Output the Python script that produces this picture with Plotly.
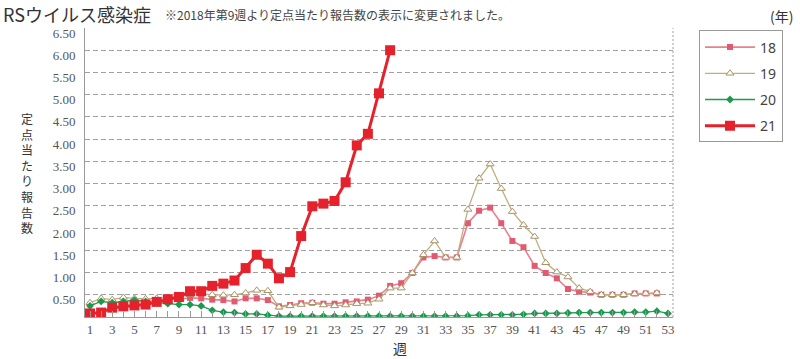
import plotly.graph_objects as go

weeks = list(range(1, 54))

# 2018 (starts week 9, ends week 52)
y18 = [None]*8 + [0.40, 0.43, 0.42, 0.39, 0.38, 0.35, 0.42, 0.42, 0.38,
                  0.24, 0.27, 0.31, 0.32, 0.30, 0.30, 0.33, 0.35, 0.39, 0.48,
                  0.70, 0.76, 0.99, 1.34, 1.37, 1.34, 1.34, 2.11, 2.39, 2.46,
                  2.11, 1.71, 1.57, 1.15, 0.99, 0.87, 0.63, 0.57, 0.55, 0.50,
                  0.50, 0.50, 0.53, 0.53, 0.53, None]
# 2019
y19 = [0.32, 0.42, 0.39, 0.44, 0.42, 0.41, 0.42, 0.44, 0.46, 0.50,
       0.52, 0.50, 0.49, 0.50, 0.54, 0.60, 0.59,
       0.22, 0.25, 0.28, 0.32, 0.27, 0.25, 0.27, 0.30, 0.31, 0.40,
       0.65, 0.65, 0.99, 1.40, 1.71, 1.34, 1.34, 2.42, 3.12, 3.44,
       2.89, 2.37, 2.07, 1.81, 1.22, 1.01, 0.90, 0.65, 0.57, 0.50,
       0.50, 0.50, 0.52, 0.53, 0.54, None]
# 2020
y20 = [0.25, 0.35, 0.32, 0.35, 0.38, 0.35, 0.33, 0.30, 0.28, 0.28,
       0.25, 0.15, 0.11, 0.10, 0.07, 0.07, 0.04,
       0.02, 0.02, 0.02, 0.02, 0.02, 0.02, 0.02, 0.02, 0.02, 0.02,
       0.02, 0.02, 0.02, 0.02, 0.02, 0.02, 0.02, 0.03, 0.05, 0.05,
       0.05, 0.05, 0.06, 0.08, 0.08, 0.08, 0.09, 0.10, 0.10, 0.10,
       0.10, 0.10, 0.11, 0.11, 0.13, 0.08]
# 2021 (weeks 1-28)
y21 = [0.08, 0.10, 0.21, 0.24, 0.26, 0.28, 0.34, 0.40, 0.45, 0.58,
       0.58, 0.70, 0.75, 0.82, 1.10, 1.40, 1.20, 0.87, 1.01, 1.82,
       2.49, 2.55, 2.61, 3.03, 3.86, 4.12, 5.03, 6.00]

series_names = ["18", "19", "20", "21"]
y_ticks = [0.5, 1.0, 1.5, 2.0, 2.5, 3.0, 3.5, 4.0, 4.5, 5.0, 5.5, 6.0, 6.5]
y_ticktext = ["%.2f" % v for v in y_ticks]
x_ticktext = [str(w) if w % 2 == 1 else "" for w in weeks]

fig = go.Figure()
fig.add_trace(go.Scatter(
    x=weeks, y=y18, name=series_names[0], mode="lines+markers",
    line=dict(color="#e8808e", width=1.6),
    marker=dict(symbol="square", size=6, color="#e25a70"),
    legendgroup="a"))
fig.add_trace(go.Scatter(
    x=weeks, y=y19, name=series_names[1], mode="lines+markers",
    line=dict(color="#bfae80", width=1.3),
    marker=dict(symbol="triangle-up", size=7, color="white",
                line=dict(color="#a89268", width=1)),
    legendgroup="b"))
fig.add_trace(go.Scatter(
    x=weeks, y=y20, name=series_names[2], mode="lines+markers",
    line=dict(color="#1f9a52", width=1.3),
    marker=dict(symbol="diamond", size=6, color="#1a9a4c"),
    legendgroup="c"))
fig.add_trace(go.Scatter(
    x=weeks[:len(y21)], y=y21, name=series_names[3], mode="lines+markers",
    line=dict(color="#e5222c", width=3),
    marker=dict(symbol="square", size=10, color="#e5222c"),
    legendgroup="d"))

serif = "Liberation Serif"
sans = "Noto Sans CJK JP"

PL, PR, PT, PB = 85, 673, 27.5, 317.3
PW, PH = PR - PL, PB - PT


def px(x):
    return (x - PL) / PW


def py(y):
    return (PB - y) / PH


fig.update_layout(
    width=800, height=359,
    margin=dict(l=PL, r=800 - PR, t=PT, b=359 - PB, autoexpand=False),
    paper_bgcolor="white", plot_bgcolor="white",
    showlegend=True,
    legend=dict(x=px(699), y=py(30), xanchor="left", yanchor="top",
                bordercolor="#999999", borderwidth=1,
                font=dict(family="Noto Sans", size=14, color="#444444"),
                traceorder="grouped", tracegroupgap=5, itemwidth=50),
    xaxis=dict(range=[0.55, 53.45], tickmode="array", tickvals=weeks,
               ticktext=x_ticktext, ticks="inside", ticklen=6,
               tickcolor="#999999", showgrid=False, zeroline=False,
               showline=True, linecolor="#999999", linewidth=1,
               tickfont=dict(family=serif, size=13, color="#555555")),
    yaxis=dict(range=[0, 6.5], tickmode="array", tickvals=y_ticks,
               ticktext=y_ticktext, showgrid=True, gridcolor="#a0a0a0",
               griddash="5px,3px", gridwidth=1, zeroline=False,
               showline=True, linecolor="#999999", linewidth=1,
               ticks="", ticklabelstandoff=6, ticklabelshift=5,
               tickfont=dict(family=serif, size=13, color="#555555")),
)

# right dotted border
fig.add_shape(type="line", xref="paper", yref="paper", x0=1, x1=1, y0=0, y1=1,
              line=dict(color="#a0a0a0", width=1, dash="2px,2px"))

# Title
fig.add_annotation(text="RSウイルス感染症", xref="paper", yref="paper",
                   x=px(1), y=py(13), xanchor="left", yanchor="middle",
                   showarrow=False, font=dict(family=sans, size=18, color="#333333"))
fig.add_annotation(text="※2018年第9週より定点当たり報告数の表示に変更されました。",
                   xref="paper", yref="paper", x=px(163), y=py(14),
                   xanchor="left", yanchor="middle", showarrow=False,
                   font=dict(family=sans, size=12, color="#444444"))
fig.add_annotation(text="(年)", xref="paper", yref="paper",
                   x=px(781), y=py(15),
                   xanchor="center", yanchor="middle", showarrow=False,
                   font=dict(family=sans, size=14, color="#333333"))
fig.add_annotation(text="週", xref="paper", yref="paper",
                   x=px(400), y=py(348),
                   xanchor="center", yanchor="middle", showarrow=False,
                   font=dict(family=sans, size=14, color="#333333"))

ytitle = "定点当たり報告数"
fig.add_annotation(text="<br>".join(ytitle), xref="paper", yref="paper",
                   x=px(27), y=py(173), xanchor="center", yanchor="middle",
                   showarrow=False,
                   font=dict(family=sans, size=12, color="#333333"))

fig.write_html("out.html", config={"displayModeBar": False},
               post_script="document.body.style.margin='0px';")
